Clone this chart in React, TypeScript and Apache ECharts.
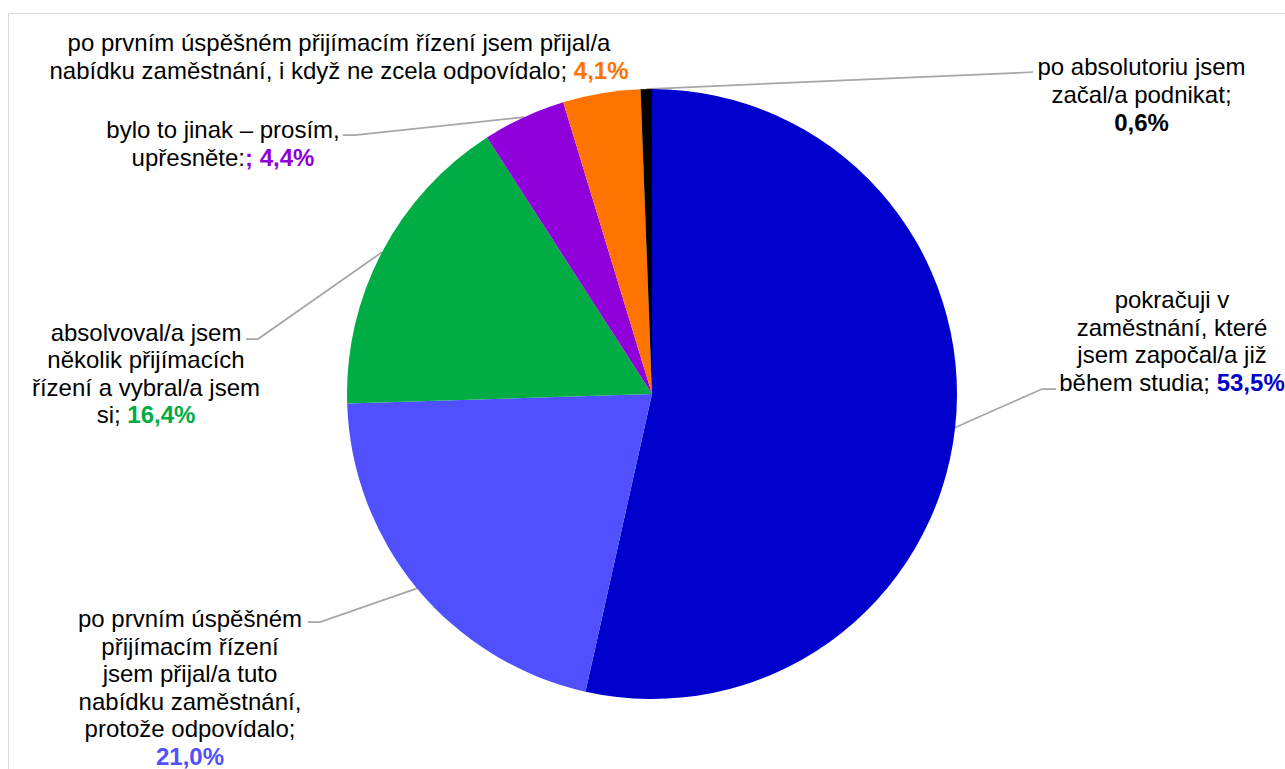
import React, { useEffect, useRef } from "react";
import * as echarts from "echarts";

const categories = [
  "pokračuji v zaměstnání, které jsem započal/a již během studia",
  "po prvním úspěšném přijímacím řízení jsem přijal/a tuto nabídku zaměstnání, protože odpovídalo",
  "absolvoval/a jsem několik přijímacích řízení a vybral/a jsem si",
  "bylo to jinak – prosím, upřesněte:",
  "po prvním úspěšném přijímacím řízení jsem přijal/a nabídku zaměstnání, i když ne zcela odpovídalo",
  "po absolutoriu jsem začal/a podnikat",
];
const values = [53.5, 21.0, 16.4, 4.4, 4.1, 0.6];
const sliceColors = ["#0000CC", "#5050FF", "#00AD45", "#8F00DA", "#FF7300", "#000000"];
const labelText = [
  "pokračuji v\nzaměstnání, které\njsem započal/a již\nběhem studia; ",
  "po prvním úspěšném\npřijímacím řízení\njsem přijal/a tuto\nnabídku zaměstnání,\nprotože odpovídalo;\n",
  "absolvoval/a jsem\nněkolik přijímacích\nřízení a vybral/a jsem\nsi; ",
  "bylo to jinak – prosím,\nupřesněte:",
  "po prvním úspěšném přijímacím řízení jsem přijal/a\nnabídku zaměstnání, i když ne zcela odpovídalo; ",
  "po absolutoriu jsem\nzačal/a podnikat;\n",
];
const valuePrefix = ["", "", "", "; ", "", ""];
const showLeader = [true, true, true, true, false, true];

// label block centres (x, y)
const labelX = [1172, 190, 146, 223, 339, 1141.5];
const labelY = [341, 687.6, 373.5, 143.3, 56.5, 94.5];
// leader line bend and end points
const leaderBends: (number[][] | null)[] = [
  [[1042, 389], [1056, 389]],
  [[320, 622], [308, 622]],
  [[258, 339], [246, 339]],
  [[355, 135], [343, 135]],
  null,
  [[1025, 72.5], [1033, 72]],
];

const FONT = "'Liberation Sans', Arial, sans-serif";
const FS = 24;
const LH = 27.6;

function fmt(v: number) {
  return v.toFixed(1).replace(".", ",") + "%";
}

export default function App() {
  const ref = useRef<HTMLDivElement>(null);
  useEffect(() => {
    if (!ref.current) return;
    const chart = echarts.init(ref.current, null, { renderer: "svg" });
    const rich: any = { t: { fontSize: FS, fontFamily: FONT, lineHeight: LH, color: "#000" } };
    sliceColors.forEach((c, i) => {
      rich["v" + i] = {
        fontSize: FS,
        fontFamily: FONT,
        lineHeight: LH,
        fontWeight: "bold",
        color: c,
      };
    });
    const data = categories.map((name, i) => ({
      name,
      value: values[i],
      itemStyle: { color: sliceColors[i] },
      labelLine: { show: showLeader[i] },
    }));
    chart.setOption({
      animation: false,
      backgroundColor: "#ffffff",
      graphic: [
        {
          type: "rect",
          shape: { x: 8.5, y: 13.5, width: 1400, height: 900 },
          style: { fill: "none", stroke: "#d9d9d9", lineWidth: 1 },
          silent: true,
        },
      ],
      series: [
        {
          type: "pie",
          center: [652, 394],
          radius: [0, 305],
          startAngle: 90,
          clockwise: true,
          avoidLabelOverlap: false,
          data,
          itemStyle: { borderWidth: 0 },
          label: {
            show: true,
            position: "outside",
            fontSize: FS,
            fontFamily: FONT,
            lineHeight: LH,
            color: "#000",
            formatter: (p: any) => {
              const i = p.dataIndex;
              return "{t|" + labelText[i] + "}{v" + i + "|" + valuePrefix[i] + fmt(values[i]) + "}";
            },
            rich,
          },
          labelLine: {
            show: true,
            length: 10,
            length2: 10,
            lineStyle: { color: "#a6a6a6", width: 1.75 },
          },
          labelLayout: (params: any) => {
            const i = params.dataIndex;
            const res: any = {
              x: labelX[i],
              y: labelY[i],
              align: "center",
              verticalAlign: "middle",
            };
            const pts = params.labelLinePoints;
            const bends = leaderBends[i];
            if (pts && pts[0] && bends) {
              res.labelLinePoints = [pts[0], bends[0], bends[1]];
            }
            return res;
          },
        },
      ],
    });
    return () => chart.dispose();
  }, []);
  return (
    <div
      ref={ref}
      style={{ position: "absolute", left: 0, top: 0, width: 1285, height: 769 }}
    />
  );
}
